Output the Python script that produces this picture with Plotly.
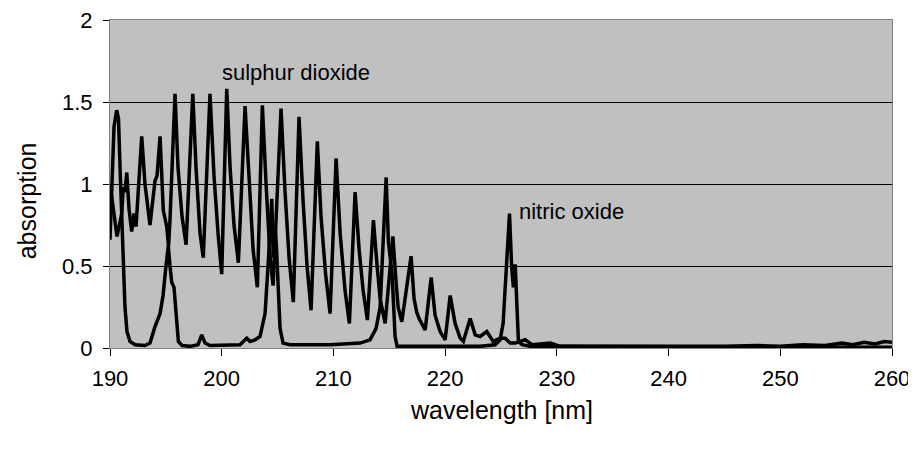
import plotly.graph_objects as go

# Sulphur dioxide spectrum (wavelength nm, absorption)
so2_wavelength = [190.00, 190.27, 190.63, 191.05, 191.19, 191.34, 191.50, 191.70, 191.94, 192.15, 192.33, 192.84, 193.13, 193.58, 194.03, 194.21, 194.48, 194.77, 195.08, 195.24, 195.37, 195.82, 196.09, 196.45, 196.81, 197.41, 197.70, 198.06, 198.35, 198.95, 199.31, 199.67, 200.00, 200.45, 200.75, 201.10, 201.49, 202.09, 202.45, 202.81, 203.19, 203.64, 203.97, 204.33, 204.60, 205.31, 205.67, 206.03, 206.41, 206.92, 207.28, 207.64, 208.00, 208.56, 208.89, 209.30, 209.70, 210.24, 210.60, 211.04, 211.43, 211.94, 212.30, 212.66, 213.04, 213.58, 213.91, 214.18, 214.63, 215.32, 215.61, 215.79, 216.12, 216.95, 217.22, 217.45, 217.67, 218.21, 218.75, 219.10, 219.55, 220.00, 220.45, 220.89, 221.34, 221.63, 222.24, 222.69, 223.13, 223.73, 224.30, 224.92, 225.37, 225.82, 226.27, 227.16, 227.79, 229.40, 230.30, 235, 240, 245, 248, 250, 252, 254, 255.5, 256.5, 257.5, 258.5, 259.3, 260]
so2_absorption = [1.00, 0.85, 0.68, 0.82, 0.98, 0.95, 1.07, 0.85, 0.71, 0.82, 0.74, 1.29, 1.00, 0.75, 1.02, 1.05, 1.29, 0.84, 0.74, 0.62, 0.78, 1.55, 1.10, 0.80, 0.63, 1.55, 1.10, 0.70, 0.55, 1.55, 1.05, 0.70, 0.45, 1.58, 1.10, 0.75, 0.52, 1.475, 1.00, 0.60, 0.37, 1.48, 1.00, 0.55, 0.38, 1.46, 0.95, 0.55, 0.28, 1.41, 0.90, 0.50, 0.23, 1.26, 0.80, 0.45, 0.21, 1.156, 0.70, 0.35, 0.15, 0.95, 0.60, 0.35, 0.17, 0.78, 0.50, 0.30, 0.15, 0.68, 0.40, 0.25, 0.16, 0.56, 0.30, 0.22, 0.18, 0.11, 0.43, 0.20, 0.10, 0.05, 0.32, 0.15, 0.06, 0.04, 0.18, 0.08, 0.07, 0.10, 0.04, 0.06, 0.06, 0.03, 0.03, 0.05, 0.02, 0.03, 0.01, 0.01, 0.005, 0.01, 0.015, 0.01, 0.02, 0.015, 0.03, 0.02, 0.035, 0.025, 0.04, 0.035]

# Nitric oxide spectrum
no_wavelength = [190.00, 190.18, 190.36, 190.60, 190.76, 190.90, 191.05, 191.16, 191.34, 191.52, 191.79, 192.24, 193.13, 193.58, 194.03, 194.48, 194.75, 195.01, 195.22, 195.37, 195.53, 195.73, 195.91, 196.12, 196.45, 197.16, 197.88, 198.21, 198.51, 198.95, 201.64, 202.24, 202.54, 202.98, 203.43, 203.88, 204.19, 204.48, 204.62, 204.78, 204.91, 205.04, 205.22, 205.49, 206.12, 209.70, 212.39, 213.28, 213.82, 214.18, 214.42, 214.72, 214.92, 215.07, 215.25, 215.52, 215.70, 217.76, 223.13, 224.48, 224.92, 225.19, 225.46, 225.76, 225.95, 226.11, 226.27, 226.40, 226.56, 226.89, 227.61, 260.00]
no_absorption = [0.66, 0.95, 1.35, 1.45, 1.40, 1.10, 0.80, 0.50, 0.25, 0.10, 0.04, 0.02, 0.015, 0.03, 0.13, 0.21, 0.32, 0.50, 0.62, 0.50, 0.40, 0.37, 0.20, 0.04, 0.015, 0.01, 0.02, 0.08, 0.03, 0.015, 0.02, 0.06, 0.04, 0.05, 0.07, 0.21, 0.55, 0.91, 0.55, 0.75, 0.60, 0.35, 0.12, 0.03, 0.02, 0.02, 0.03, 0.05, 0.12, 0.25, 0.60, 1.04, 0.65, 0.55, 0.45, 0.07, 0.01, 0.01, 0.01, 0.02, 0.05, 0.15, 0.50, 0.82, 0.50, 0.37, 0.51, 0.30, 0.04, 0.02, 0.01, 0.005]

x_ticks = [190, 200, 210, 220, 230, 240, 250, 260]
y_ticks = [0, 0.5, 1, 1.5, 2]
y_tick_labels = ["0", "0.5", "1", "1.5", "2"]

FONT = "Liberation Sans, Arial, sans-serif"

fig = go.Figure()
fig.add_trace(go.Scatter(x=so2_wavelength, y=so2_absorption, mode="lines",
                         line=dict(color="black", width=3.5), name="sulphur dioxide"))
fig.add_trace(go.Scatter(x=no_wavelength, y=no_absorption, mode="lines",
                         line=dict(color="black", width=3.5), name="nitric oxide"))

fig.add_annotation(x=199.85, y=1.68, text="sulphur dioxide", showarrow=False,
                   xanchor="left", yanchor="middle", font=dict(size=22, color="black", family=FONT))
fig.add_annotation(x=226.4, y=0.835, text="nitric oxide", showarrow=False,
                   xanchor="left", yanchor="middle", font=dict(size=22, color="black", family=FONT))

# axis titles
fig.add_annotation(xref="paper", yref="paper", x=0.501, y=-0.189, text="wavelength [nm]",
                   showarrow=False, xanchor="center", yanchor="middle",
                   font=dict(size=25, color="black", family=FONT))
fig.add_annotation(xref="paper", yref="paper", x=-0.105, y=0.45, text="absorption",
                   showarrow=False, xanchor="center", yanchor="middle", textangle=-90,
                   font=dict(size=25, color="black", family=FONT))

fig.update_layout(
    width=916, height=452,
    margin=dict(l=102, r=32, t=12, b=112),
    paper_bgcolor="white",
    plot_bgcolor="#C0C0C0",
    showlegend=False,
    font=dict(family=FONT, size=22, color="black"),
    xaxis=dict(range=[190, 260], tickvals=x_ticks, ticks="outside", ticklen=7,
               tickcolor="black", showgrid=False, zeroline=False, automargin=False,
               ticklabeloverflow="allow", ticklabelstandoff=4,
               showline=True, linecolor="#808080", linewidth=1, mirror=True,
               tickfont=dict(size=22)),
    yaxis=dict(range=[0, 2], tickvals=y_ticks, ticktext=[t + "\u00a0" for t in y_tick_labels],
               ticks="outside",
               ticklen=6, tickcolor="black", showgrid=True, gridcolor="black", gridwidth=1,
               zeroline=False, showline=True, linecolor="#808080", linewidth=1, mirror=True,
               automargin=False, ticklabeloverflow="allow",
               tickfont=dict(size=22)),
)

fig.write_html("out.html")
